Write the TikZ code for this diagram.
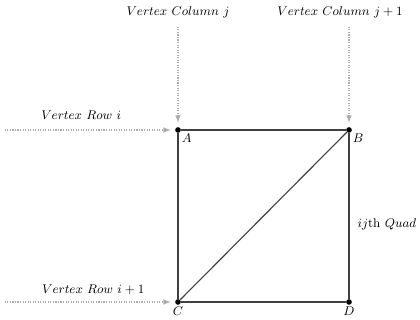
\documentclass[tikz,border=0pt]{standalone}
\usepackage{amsmath,amssymb}
\usepackage{tikz}

\begin{document}
\begin{tikzpicture}[
  v/.style={circle,fill,inner sep=0,minimum size=4pt},
  lab/.style={inner sep=1pt,font=\small},
  guide/.style={draw=gray!65,densely dotted,thick,-latex,shorten >=3pt}]
\useasboundingbox (0,0) rectangle (10.5,8);
\node[v,label={[lab]below right:{$A$}}] (a) at (4.45,4.75) {};
\node[v,label={[lab]below right:{$B$}}] (b) at (8.725,4.75) {};
\node[v,label={[lab]below:{$C$}}] (c) at (4.45,0.45) {};
\node[v,label={[lab]below:{$D$}}] (d) at (8.725,0.45) {};
\draw[thick,black!75] (a)--(b)--(d)--(c)--(a);
\draw[thick,black!75] (c)--(b);
% column and row guides
\node[lab] (colj) at (4.45,7.68) {$Vertex\ Column\ j$};
\node[lab] (colj1) at (8.5,7.68) {$Vertex\ Column\ j+1$};
\draw[guide] (4.45,7.33)--(a);
\draw[guide] (8.725,7.33)--(b);
\node[lab] (rowi) at (2.03,5.13) {$Vertex\ Row\ i$};
\node[lab] (rowi1) at (2.33,0.76) {$Vertex\ Row\ i+1$};
\coordinate (r1) at (0.12,4.75);
\coordinate (r2) at (0.12,0.45);
\draw[guide] (r1)--(a);
\draw[guide] (r2)--(c);
\node[lab,anchor=west] (quad) at (8.9,2.4) {$ij\text{th}\ Quad$};
\end{tikzpicture}
\end{document}
